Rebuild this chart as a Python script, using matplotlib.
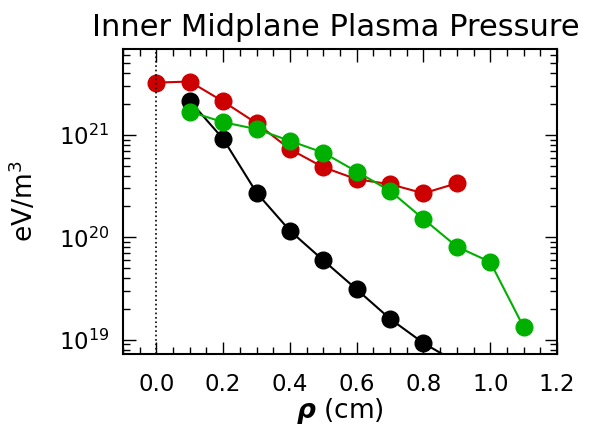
import matplotlib
matplotlib.use("Agg")
import matplotlib.pyplot as plt
from matplotlib.ticker import MultipleLocator, LogLocator, NullFormatter

rho_red = [0.0, 0.1, 0.2, 0.3, 0.4, 0.5, 0.6, 0.7, 0.8, 0.9]
p_red = [3.24e21, 3.32e21, 2.12e21, 1.30e21, 7.25e20, 4.83e20, 3.69e20, 3.30e20, 2.69e20, 3.37e20]

rho_black = [0.1, 0.2, 0.3, 0.4, 0.5, 0.6, 0.7, 0.8, 0.9]
p_black = [2.15e21, 9.14e20, 2.73e20, 1.16e20, 5.96e19, 3.10e19, 1.60e19, 9.27e18, 6.0e18]

rho_green = [0.1, 0.2, 0.3, 0.4, 0.5, 0.6, 0.7, 0.8, 0.9, 1.0, 1.1]
p_green = [1.69e21, 1.33e21, 1.14e21, 8.74e20, 6.71e20, 4.38e20, 2.84e20, 1.51e20, 8.1e19, 5.74e19, 1.33e19]

fig = plt.figure(figsize=(6.11, 4.34), dpi=100)
ax = fig.add_axes([0.2013, 0.1843, 0.7103, 0.7028])

ms = 12
ax.plot(rho_black, p_black, '-o', color='black', ms=ms, lw=1.5)
ax.plot(rho_red, p_red, '-o', color='#cc0000', ms=ms, lw=1.5)
ax.plot(rho_green, p_green, '-o', color='#00b000', ms=ms, lw=1.5)
ax.axvline(0.0, color='black', ls=':', lw=1.2)

ax.set_yscale('log')
ax.set_xlim(-0.1, 1.2)
ax.set_ylim(7.25e18, 6.9e21)
ax.xaxis.set_major_locator(MultipleLocator(0.2))
ax.xaxis.set_minor_locator(MultipleLocator(0.05))
ax.yaxis.set_major_locator(LogLocator(base=10))
ax.yaxis.set_minor_locator(LogLocator(base=10, subs=range(2, 10)))
ax.yaxis.set_minor_formatter(NullFormatter())
ax.xaxis.set_major_formatter(matplotlib.ticker.FormatStrFormatter('%.1f'))

ax.tick_params(which='both', direction='in', top=True, right=True, width=1)
ax.tick_params(which='major', length=9, labelsize=16.5)
ax.tick_params(axis='x', which='major', pad=14)
ax.tick_params(axis='y', which='major', pad=10)
ax.tick_params(which='minor', length=5)
for s in ax.spines.values():
    s.set_linewidth(1.5)

ax.set_title('Inner Midplane Plasma Pressure', fontsize=22, pad=9, x=0.49)
ax.set_xlabel(r'$\boldsymbol{\rho}$ (cm)', fontsize=19, labelpad=0)
ax.set_ylabel(r'eV/m$^3$', fontsize=19, labelpad=14)

fig.savefig('out.png', dpi=100)
